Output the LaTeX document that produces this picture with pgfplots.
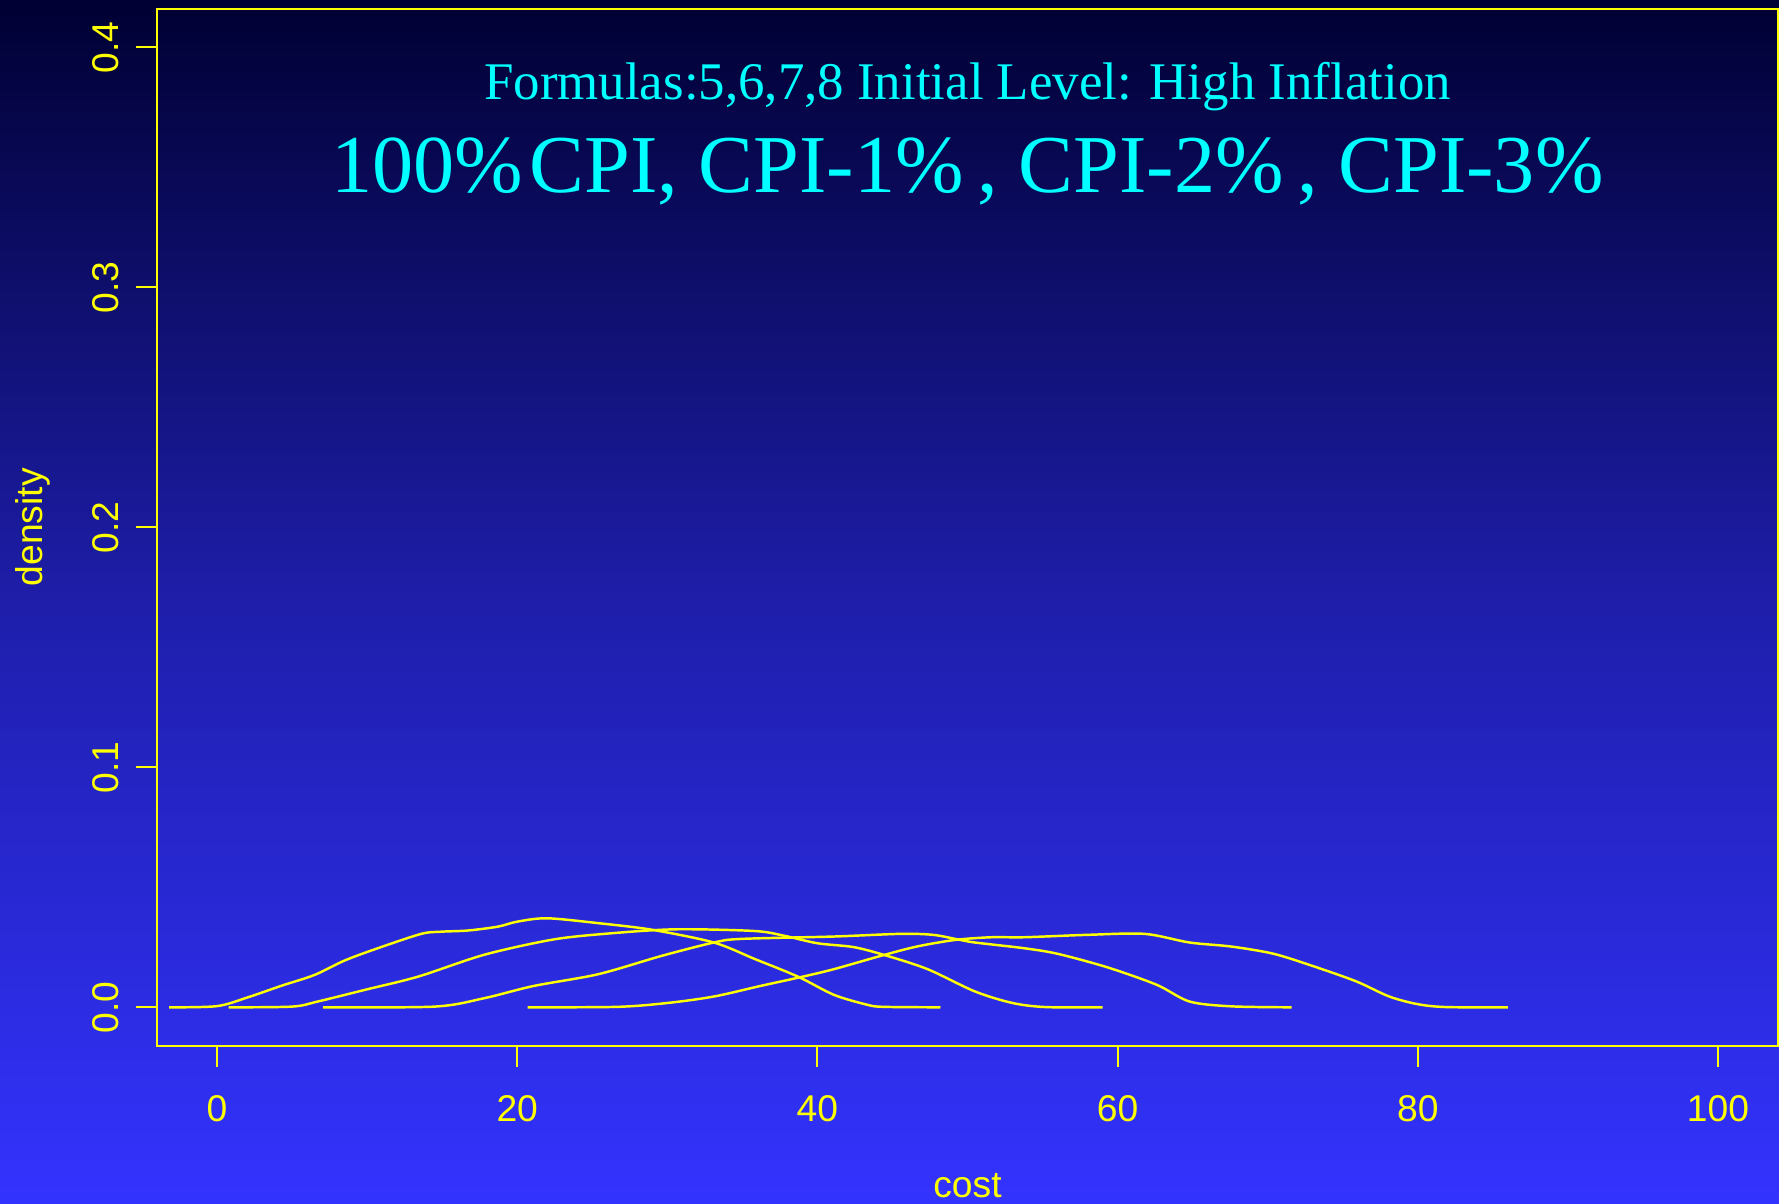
\documentclass[border=0pt]{standalone}
\usepackage{fontspec}
\setmainfont{Liberation Serif}
\setsansfont{Liberation Sans}
\usepackage{pgfplots}
\pgfplotsset{compat=1.18}
\definecolor{bgtop}{RGB}{0,0,51}
\definecolor{bgmid}{RGB}{30,30,170}
\definecolor{bgbot}{RGB}{51,51,255}
\definecolor{ylw}{RGB}{255,255,0}
\definecolor{cyn}{RGB}{0,255,255}
\begin{document}
\begin{tikzpicture}
\shade[use as bounding box, top color=bgtop, bottom color=bgbot, middle color=bgmid] (0,0) rectangle (177.9mm,120.3mm);
\begin{axis}[
  at={(15.7mm,15.73mm)}, anchor=south west,
  scale only axis, width=162.1mm, height=103.67mm,
  xmin=-4, xmax=104, ymin=-0.016, ymax=0.416,
  axis line style={ylw, line width=0.6pt},
  xtick={0,20,40,60,80,100},
  ytick={0,0.1,0.2,0.3,0.4},
  yticklabels={0.0,0.1,0.2,0.3,0.4},
  tick align=outside, major tick length=2.1mm,
  xtick pos=bottom, ytick pos=left,
  tick style={ylw, line width=0.6pt},
  /pgf/number format/assume math mode=true,
  ticklabel style={font=\sffamily\fontsize{10.6}{12}\selectfont, text=ylw},
  xticklabel style={anchor=north, inner sep=0pt, yshift=-2.8mm},
  yticklabel style={rotate=90, anchor=south, inner sep=0pt, yshift=1.6mm},
  clip=false,
  dens/.style={ylw, line width=0.7pt, smooth, tension=0.5, mark=none},
]
\addplot[dens] coordinates {
(-3.2,0) (0,0.0005) (2.07,0.0042) (4.3,0.009) (6.5,0.0135) (8.5,0.0195) (10.7,0.0246) (13.6,0.0306) (14.9,0.0315) (16.7,0.032) (18.7,0.0336) (20,0.0357) (22,0.0371) (25.5,0.035) (29,0.0323) (33.1,0.027) (35.8,0.0202) (38.7,0.0128) (41.1,0.0052) (43.3,0.0011) (44.4,0.0002) (48.2,0)};
\addplot[dens] coordinates {
(0.78,0) (5,0.0003) (6.7,0.0024) (10,0.0075) (13.4,0.0128) (17.8,0.0219) (22.25,0.0281) (25.6,0.0305) (30.45,0.0325) (35.8,0.0318) (37.8,0.0298) (40,0.0267) (42.4,0.0251) (44.4,0.0219) (47.3,0.016) (50.5,0.0066) (53,0.0018) (55.2,0.0001) (59,0)};
\addplot[dens] coordinates {
(7.06,0) (14.5,0.0003) (17.8,0.0038) (21.1,0.0089) (25.4,0.0138) (29.6,0.0214) (33.1,0.027) (34.9,0.0285) (41.1,0.0295) (45.5,0.0306) (47.7,0.0302) (49.5,0.0281) (50.5,0.027) (53.8,0.0246) (56,0.0223) (59.3,0.0167) (62.6,0.0094) (64.8,0.0024) (67.6,0.0004) (71.6,0)};
\addplot[dens] coordinates {
(20.7,0) (26.7,0.0002) (30,0.0018) (33.1,0.0045) (36.2,0.0089) (38.9,0.0126) (41.1,0.0159) (44.2,0.0214) (46.6,0.0253) (49.2,0.0281) (51.6,0.0292) (53.8,0.0292) (58,0.0302) (61.8,0.0306) (64.8,0.027) (67.6,0.0253) (70.4,0.0223) (73.1,0.017) (75.9,0.0108) (78.1,0.0045) (80,0.0013) (81.9,0.0001) (86,0)};
\node[anchor=base, text=cyn, font=\fontsize{15.05}{18}\selectfont, inner sep=0pt] at (axis description cs:0.5,0.9129) {Formulas:5,6,7,8 Initial Level: High Inflation};
\node[anchor=base, text=cyn, font=\fontsize{23.4}{28}\selectfont, inner sep=0pt] at (axis description cs:0.5,0.8228) {100\%\kern0.08em CPI, CPI-1\%\,, CPI-2\%\,, CPI-3\%};
\node[text=ylw, font=\sffamily\fontsize{10.6}{12}\selectfont, inner sep=0pt] at (axis description cs:0.5,-0.1353) {cost};
\node[text=ylw, font=\sffamily\fontsize{10.6}{12}\selectfont, inner sep=0pt, rotate=90] at (axis description cs:-0.0765,0.5) {density};
\end{axis}
\end{tikzpicture}
\end{document}
